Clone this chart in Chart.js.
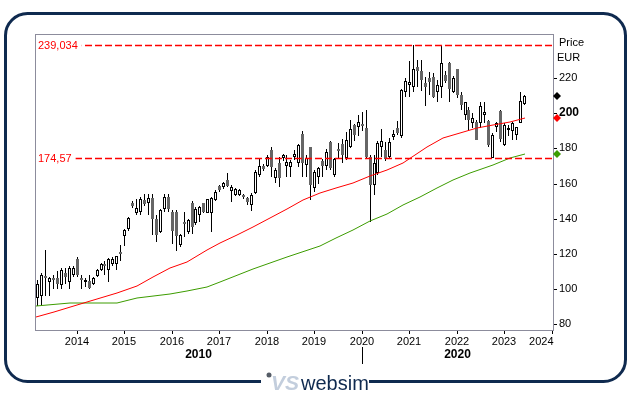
<!DOCTYPE html>
<html>
<head>
<meta charset="utf-8">
<script src="https://cdn.jsdelivr.net/npm/chart.js@4"></script>
<style>
  html, body { margin: 0; padding: 0; background: #fff; }
  canvas { display: block; }
</style>
</head>
<body>
<canvas id="chart" width="632" height="396"></canvas>
<script>
// monthly candles, Mar 2013 .. Jun 2023
const firstMonth = '2013-03';
const open = [
  95, 96, 107, 104, 106, 106, 102, 109, 104, 108,
  117, 106, 104, 104.5, 103, 107.5, 111, 114, 111, 114, 114, 121,
  130.3, 134, 149, 143, 144, 150.4, 149, 151.7, 140, 132.5, 145.7, 152.3,
  143.6, 143.6, 125, 138, 132.7, 148.8, 137.4, 142.2, 148.8, 143.5, 143, 150.7,
  158.6, 158.3, 162, 156, 153.5, 153.5, 153.5, 152, 147.8, 154.5, 164.9, 170,
  170, 179, 163, 171.5, 174.4, 170, 169.6, 175.2, 171.7, 188.4, 170.8, 180.7,
  157.3, 163.9, 173, 170, 183.9, 164.9, 179.1, 182.5, 174.4, 181, 193.4, 192.1,
  194, 191.5, 175.3, 159.2, 166, 180.6, 179.1, 175, 186.5, 191.4, 187, 212,
  216.2, 214.9, 226.6, 224.2, 217.1, 220, 220.9, 212.4, 214.9, 221.9, 228.5, 212.4,
  225.1, 210.5, 199.1, 201.9, 194.4, 195.3, 194.4, 199.1, 195.7, 174.4, 192.4, 201.5,
  182, 190.5, 190, 187.7, 194.7, 205.4
];
const high = [
  105, 109, 122, 107, 108, 110, 112, 112, 113, 113,
  118, 108, 106, 108, 107, 111.5, 115, 116, 117.5, 118, 119, 125,
  134, 141, 150, 151, 152.3, 154.2, 154.2, 154.2, 142, 145.5, 154.2, 154.2,
  145, 145, 131.5, 143.6, 140, 150, 146.5, 147, 149, 151.5, 152.3, 156.5,
  159, 161, 165.8, 159.2, 157.5, 157, 154, 152.6, 154.5, 167.5, 174.4, 171,
  176, 181, 168.7, 175.3, 177, 176, 173.5, 179, 182.6, 190, 176.3, 181,
  167.5, 169.5, 174, 179.5, 184.5, 174.5, 183, 185.5, 189.5, 196, 194, 198.9,
  201, 202, 176, 176, 184, 191, 183.9, 185.9, 190.7, 195.4, 214, 220.4,
  230, 239, 230.4, 230.4, 220.9, 223.8, 222.8, 219, 239, 224.3, 229.5, 221.3,
  225.5, 212.4, 206.7, 203.8, 200, 196.2, 206.7, 206.7, 196.2, 188.6, 195.3, 201.9,
  194.4, 193.4, 195.3, 192.4, 212.4, 210.5
];
const low = [
  90.5, 91, 96, 96, 100, 100, 100, 103, 100, 107,
  107, 100, 101, 100, 102, 107, 110, 108, 104, 113, 111, 116,
  124.4, 133, 146, 142, 142, 147, 142, 130.6, 127, 131.6, 143.8, 143.8,
  125.5, 121.7, 124, 129.4, 131, 131, 136.5, 138, 143.5, 143, 132.7, 150,
  155, 157, 158.3, 149.7, 153, 153, 151.5, 147.8, 144.6, 154, 163.9, 167,
  169.5, 164, 160.2, 158.3, 173, 164, 164, 173.5, 169.6, 164, 164, 150.7,
  155, 160, 164, 167.5, 168, 164, 174.3, 171.7, 173.5, 180, 184, 186.9,
  190, 174.5, 138.3, 153.6, 165, 175.3, 173, 174, 185, 187.8, 186, 209.5,
  209.5, 212, 215, 213, 204, 210.5, 208.6, 206.7, 208.6, 217.1, 206.7, 211.4,
  208.6, 201.9, 196.2, 190.5, 191.5, 184.8, 191.5, 194.4, 181, 174.4, 189.6, 183.9,
  181.4, 187.1, 184.8, 184.8, 194.4, 204.8
];
const close = [
  102.6, 108, 106, 106, 105, 103, 111, 107, 112, 112,
  108, 105, 105, 100.5, 106, 110.5, 114, 113, 117, 117, 118.5, 120,
  133.6, 140.2, 147.2, 146, 151.3, 148.5, 151.7, 140, 130.6, 144.8, 152.3, 145.7,
  133.2, 130.3, 130.7, 137, 139.3, 135.5, 145.4, 146.5, 144, 151, 151.6, 155.4,
  156.4, 160.5, 158.6, 158.3, 156.8, 156.4, 152.6, 149.7, 153.5, 166.8, 170, 168.1,
  175, 169.6, 167.7, 163, 176.2, 172.5, 172.5, 177, 182.2, 171.5, 174.6, 159.2,
  166.8, 168.8, 170, 178.2, 169, 173.8, 178.5, 176.4, 184.8, 190.9, 187.7, 195.3,
  192.7, 175.3, 159.2, 171.5, 183, 184, 173.8, 183.6, 188, 188.9, 213.2, 218.5,
  218, 225.1, 224.3, 218.9, 215.2, 218.1, 209.1, 216.2, 228.5, 218.6, 213.7, 220,
  210.5, 204.8, 206.3, 196.2, 197.2, 184.8, 204.2, 201, 182, 187.7, 194.4, 185.2,
  193.4, 191, 194.4, 192.1, 207.1, 209.9
];

// moving averages (fractional year, value)
const redTimes = [2013.14, 2013.51, 2014.0, 2014.42, 2014.84, 2015.26, 2015.61, 2015.96, 2016.32, 2016.74,
  2017.02, 2017.37, 2017.72, 2018.07, 2018.42, 2018.77, 2019.12, 2019.47, 2019.82, 2020.17,
  2020.53, 2020.88, 2021.12, 2021.37, 2021.72, 2022.07, 2022.42, 2022.77, 2023.12, 2023.43];
const redMA = [84.2, 87, 90.8, 94, 97.5, 101.7, 106.9, 111.7, 115.5, 122.2,
  126.3, 130.7, 135.1, 140.2, 145.3, 150.7, 154.8, 157.3, 160.5, 164.3,
  167.7, 171.9, 176.3, 181, 185.8, 189, 191.5, 193.4, 195.3, 197.2];
const greenTimes = [2013.14, 2013.86, 2014.84, 2015.26, 2015.96, 2016.32, 2016.74, 2017.02, 2017.72, 2018.42,
  2019.12, 2019.47, 2019.82, 2020.17, 2020.53, 2020.88, 2021.23, 2021.58, 2021.93, 2022.28,
  2022.77, 2023.12, 2023.43];
const greenMA = [90.3, 91.8, 92.1, 94.6, 97.1, 99, 101.3, 104.1, 111.2, 118,
  124.4, 128.8, 133.6, 138.9, 142.5, 147.8, 152.6, 157.3, 162, 165.9,
  170.6, 174.4, 176.9];

const levels = [239.034, 174.57];
const levelLabels = ['239,034', '174,57'];
const xTicks = [2014, 2015, 2016, 2017, 2018, 2019, 2020, 2021, 2022, 2023, 2024];
const yTicks = [80, 100, 120, 140, 160, 180, 200, 220];
const decades = [2010, 2020];
const xMin = 2013.12, xMax = 2024.03;
const yMin = 76.6, yMax = 245.2;

const FONT = '"Liberation Sans", Arial, sans-serif';
const NAVY = '#0f2a4f';

// month list
const [fy, fm] = firstMonth.split('-').map(Number);
const monthT = close.map((_, i) => fy + (fm - 1 + i) / 12);

const wickData = monthT.map((t, i) => ({ x: t, y: [low[i], high[i]] }));
const bodyData = monthT.map((t, i) => ({ x: t, y: [Math.min(open[i], close[i]), Math.max(open[i], close[i])] }));
const isUp = close.map((c, i) => c >= open[i]);

const extras = {
  id: 'extras',
  beforeDraw(chart) {
    const ctx = chart.ctx;
    ctx.save();
    ctx.fillStyle = '#fff';
    ctx.fillRect(0, 0, chart.width, chart.height);
    ctx.restore();
  },
  // half-pixel shift so 1px wicks and 3px bodies land on whole pixels
  beforeDatasetDraw(chart, args) {
    chart.ctx.save();
    if (args.meta.type === 'bar') chart.ctx.translate(0.5, 0);
    else if (args.meta.dataset && args.meta.dataset.options.borderDash.length) chart.ctx.translate(0, 0.5);
  },
  afterDatasetDraw(chart) {
    chart.ctx.restore();
  },
  afterDraw(chart) {
    const ctx = chart.ctx;
    const a = chart.chartArea;
    const xs = chart.scales.x, ys = chart.scales.y;
    ctx.save();

    // plot frame
    ctx.strokeStyle = '#8c8c9c';
    ctx.lineWidth = 1;
    ctx.strokeRect(a.left + 0.5, a.top + 0.5, a.right - a.left, a.bottom - a.top);

    // level labels
    ctx.font = '11px ' + FONT;
    ctx.textBaseline = 'middle';
    levels.forEach((v, i) => {
      const y = ys.getPixelForValue(v);
      const w = ctx.measureText(levelLabels[i]).width;
      ctx.fillStyle = '#fff';
      ctx.fillRect(a.left + 1, y - 6, w + 6, 13);
      ctx.fillStyle = '#ff0000';
      ctx.textAlign = 'left';
      ctx.fillText(levelLabels[i], a.left + 3, y + 1);
    });

    // right-edge markers: last close, red MA, green MA
    const marks = [[close[close.length - 1], '#000'], [redMA[redMA.length - 1], '#ff0000'], [greenMA[greenMA.length - 1], '#3c9c00']];
    marks.forEach(([v, col]) => {
      const y = ys.getPixelForValue(v), x = a.right + 4;
      ctx.fillStyle = col;
      ctx.beginPath();
      ctx.moveTo(x, y - 4); ctx.lineTo(x + 4, y); ctx.lineTo(x, y + 4); ctx.lineTo(x - 4, y);
      ctx.closePath();
      ctx.fill();
    });

    // axis title
    ctx.fillStyle = '#000';
    ctx.textAlign = 'left';
    ctx.textBaseline = 'alphabetic';
    ctx.font = '11px ' + FONT;
    ctx.fillText('Price', a.right + 6, a.top + 12);
    ctx.fillText('EUR', a.right + 4, a.top + 27);

    // decade labels
    ctx.font = 'bold 12px ' + FONT;
    ctx.textAlign = 'center';
    ctx.textBaseline = 'middle';
    decades.forEach(d => {
      const l = Math.max(a.left, xs.getPixelForValue(d));
      const r = Math.min(a.right, xs.getPixelForValue(d + 10));
      ctx.fillText(String(d), (l + r) / 2, a.bottom + 25);
      const px = xs.getPixelForValue(d);
      if (px > a.left && px < a.right) {
        ctx.fillRect(Math.round(px), a.bottom + 17, 1, 17);
      }
    });

    // outer frame
    ctx.strokeStyle = NAVY;
    ctx.lineWidth = 3;
    ctx.beginPath();
    ctx.roundRect(5.5, 13.5, 620, 368, 22);
    ctx.stroke();

    // logo
    const cx = chart.width / 2 - 1;
    ctx.fillStyle = '#fff';
    ctx.fillRect(cx - 54, 376, 108, 12);
    ctx.fillStyle = '#555c66';
    ctx.beginPath();
    ctx.arc(cx - 46, 375, 2.5, 0, Math.PI * 2);
    ctx.fill();
    ctx.font = 'italic bold 21px ' + FONT;
    ctx.fillStyle = '#c3cedd';
    ctx.textAlign = 'left';
    ctx.textBaseline = 'alphabetic';
    ctx.fillText('VS', cx - 44, 390);
    ctx.font = '20px ' + FONT;
    ctx.fillStyle = NAVY;
    ctx.fillText('websim', cx - 14, 390);
    ctx.restore();
  }
};

new Chart(document.getElementById('chart'), {
  type: 'bar',
  data: {
    datasets: [
      {
        label: 'wick', data: wickData, backgroundColor: '#000', borderWidth: 0,
        barThickness: 1, inflateAmount: 0, grouped: false, order: 5
      },
      {
        label: 'body', data: bodyData,
        backgroundColor: isUp.map(u => u ? '#fff' : '#666'),
        borderColor: isUp.map(u => u ? '#000' : '#666'),
        borderWidth: 1, borderSkipped: false, barThickness: 3, minBarLength: 2, inflateAmount: 0,
        grouped: false, order: 4
      },
      {
        type: 'line', label: 'ma long', data: greenTimes.map((t, i) => ({ x: t, y: greenMA[i] })),
        borderColor: '#3c9c00', borderWidth: 1, pointRadius: 0, tension: 0, order: 3
      },
      {
        type: 'line', label: 'ma short', data: redTimes.map((t, i) => ({ x: t, y: redMA[i] })),
        borderColor: '#ff0000', borderWidth: 1, pointRadius: 0, tension: 0, order: 2
      },
      ...levels.map(v => ({
        type: 'line', data: [{ x: xMin, y: v }, { x: xMax, y: v }],
        borderColor: '#ff0000', borderWidth: 1.3, borderDash: [7, 3], pointRadius: 0, order: 1
      }))
    ]
  },
  options: {
    responsive: false,
    animation: false,
    events: [],
    layout: { padding: { left: 35, top: 34, right: 0, bottom: 0 } },
    plugins: { legend: { display: false }, tooltip: { enabled: false } },
    scales: {
      x: {
        type: 'linear', position: 'bottom', min: xMin, max: xMax, offset: false, alignToPixels: true,
        grid: { display: true, offset: false, drawOnChartArea: false, drawTicks: true, tickLength: 4, tickColor: '#000' },
        border: { display: false },
        ticks: {
          color: '#000', font: { size: 11, family: FONT }, padding: 1, maxRotation: 0, autoSkip: false,
          // last label sits left of its tick, against the frame
          callback: v => v === xTicks[xTicks.length - 1] ? String(v) + '       ' : String(v)
        },
        afterBuildTicks: s => { s.ticks = xTicks.map(v => ({ value: v })); },
        afterFit: s => { s.height = 66; }
      },
      y: {
        type: 'linear', position: 'right', min: yMin, max: yMax, alignToPixels: true,
        grid: { display: true, drawOnChartArea: false, drawTicks: true, tickLength: 4, tickColor: '#000' },
        border: { display: false },
        ticks: {
          color: '#000', padding: 2,
          font: ctx => (ctx.tick && ctx.tick.value === 200) ? { size: 12, weight: 'bold', family: FONT } : { size: 11, family: FONT }
        },
        afterBuildTicks: s => { s.ticks = yTicks.map(v => ({ value: v })); },
        afterFit: s => { s.width = 79; }
      }
    }
  },
  plugins: [extras]
});
</script>
</body>
</html>
